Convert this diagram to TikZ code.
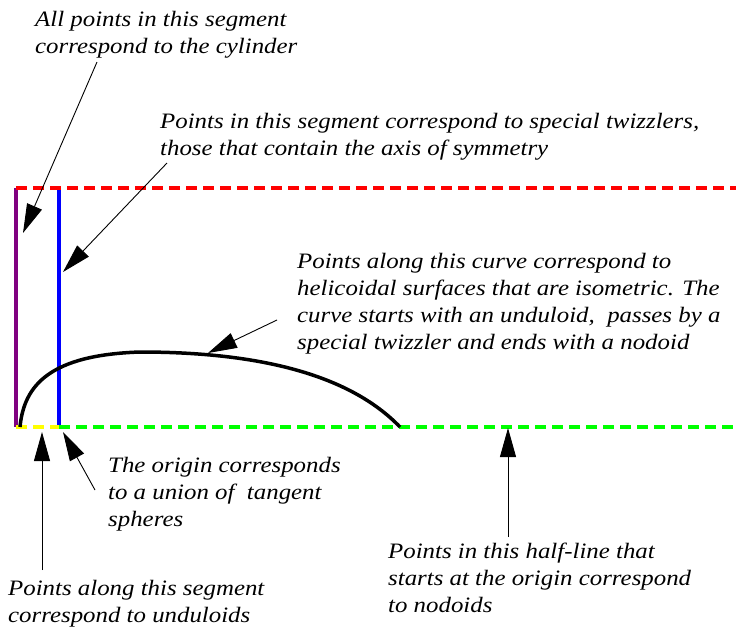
\documentclass[tikz,border=0pt]{standalone}
\usepackage{fontspec}
\setmainfont{Liberation Serif}[FakeStretch=1.13]
\usetikzlibrary{arrows.meta}
\definecolor{cpurple}{RGB}{128,0,128}
\definecolor{cgreen}{RGB}{0,255,0}
\definecolor{cyellow}{RGB}{255,255,0}
\tikzset{
  txt/.style={anchor=base west, inner sep=0pt, align=left, font=\fontsize{22}{27}\selectfont\itshape},
  dashln/.style={line width=3.5pt, dash pattern=on 11pt off 6pt},
  solidln/.style={line width=3.5pt},
  pointer/.style={line width=0.9pt, -{Triangle[length=29pt,width=16pt]}},
}
\begin{document}
\begin{tikzpicture}[x=1pt,y=-1pt]
\useasboundingbox (0,0) rectangle (736,627);
% axes
\coordinate (tl) at (16,188);
\coordinate (bl) at (16,427);
\coordinate (tb) at (59,188);
\coordinate (bb) at (59,427);
\coordinate (tr) at (736,188);
\coordinate (br) at (736,427);
\coordinate (cs) at (20,427);
\coordinate (cm) at (140,352);
\coordinate (ce) at (400,427);
\draw[solidln, cpurple] (tl) -- (bl);
\draw[solidln, blue] (tb) -- (bb);
\draw[dashln, red] (tl) -- (tr);
\draw[dashln, cyellow] (bl) -- (bb);
\draw[dashln, cgreen] (bb) -- (br);
\draw[line width=3.5pt] (cs) .. controls (24,385) and (50,355) .. (cm)
  .. controls (260,352) and (350,375) .. (ce);
% texts (anchored at the baseline of the last line)
\node[txt] (t1) at (35,53) {All points in this segment\\correspond to the cylinder};
\node[txt] (t2) at (160,155) {Points in this segment correspond to special twizzlers,\\those that contain the axis of symmetry};
\node[txt] (t3) at (297,349) {Points along this curve correspond to\\helicoidal surfaces that are isometric. The\\curve starts with an unduloid,\ \ passes by a\\special twizzler and ends with a nodoid};
\node[txt] (t4) at (108,526) {The origin corresponds\\to a union of\ \ tangent\\spheres};
\node[txt] (t5) at (8,622) {Points along this segment\\correspond to unduloids};
\node[txt] (t6) at (388,612) {Points in this half-line that\\starts at the origin correspond\\to nodoids};
% arrows
\coordinate (a1s) at (97,62);   \coordinate (a1e) at (23,233);
\coordinate (a2s) at (167,163); \coordinate (a2e) at (63,272);
\coordinate (a3s) at (277,320); \coordinate (a3e) at (208,353);
\coordinate (a4s) at (42,570);  \coordinate (a4e) at (42,432);
\coordinate (a5s) at (95,490);  \coordinate (a5e) at (63,432);
\coordinate (a6s) at (508,537); \coordinate (a6e) at (508,428);
\draw[pointer] (a1s) -- (a1e);
\draw[pointer] (a2s) -- (a2e);
\draw[pointer] (a3s) -- (a3e);
\draw[pointer] (a4s) -- (a4e);
\draw[pointer] (a5s) -- (a5e);
\draw[pointer] (a6s) -- (a6e);
\end{tikzpicture}
\end{document}
